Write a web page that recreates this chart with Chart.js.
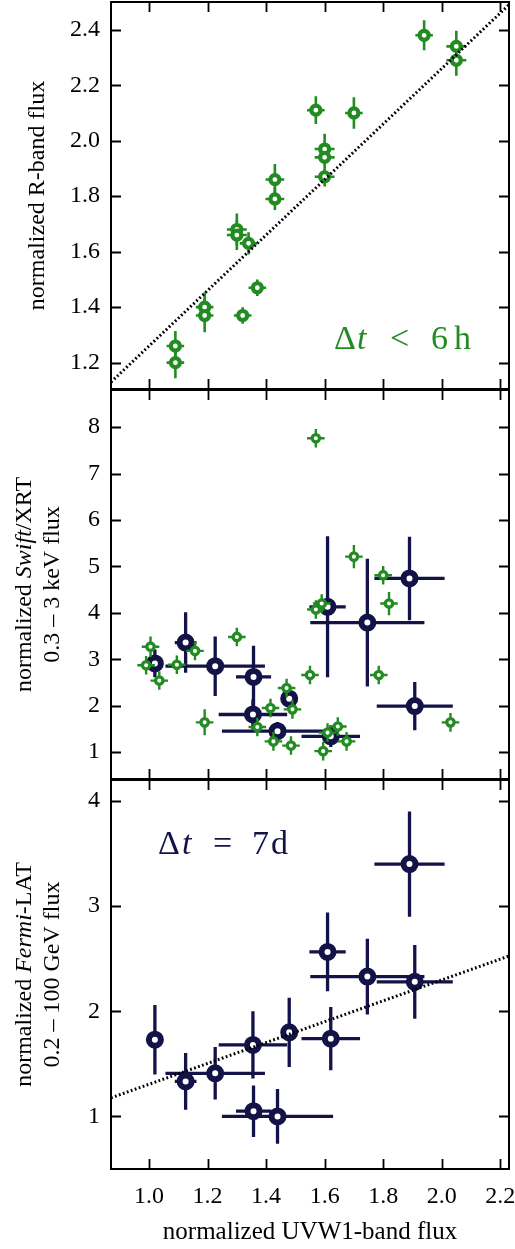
<!DOCTYPE html>
<html>
<head>
<meta charset="utf-8">
<script src="https://cdn.jsdelivr.net/npm/chart.js@4"></script>
<style>
  body { margin: 0; background: #fff; width: 515px; height: 1249px; position: relative; overflow: hidden; }
  canvas { position: absolute; left: 0; }
</style>
</head>
<body>
<canvas id="rband" width="515" height="391" style="top:0px"></canvas>
<canvas id="xrt" width="515" height="390" style="top:390px"></canvas>
<canvas id="lat" width="515" height="470" style="top:779px"></canvas>
<script>
// shared x axis (normalized UVW1 flux)
const xMin = 0.87, xMax = 2.23;
const xTicks = [1.0, 1.2, 1.4, 1.6, 1.8, 2.0, 2.2];
const rTicks = [1.2, 1.4, 1.6, 1.8, 2.0, 2.2, 2.4];
const xrtTicks = [1, 2, 3, 4, 5, 6, 7, 8];
const latTicks = [1, 2, 3, 4];

// R band vs UVW1, quasi-simultaneous (dt < 6 h)
const rUvX    = [1.94, 2.05, 2.05, 1.57, 1.70, 1.60, 1.60, 1.60, 1.43, 1.43, 1.30, 1.30, 1.34, 1.37, 1.32, 1.19, 1.19, 1.09, 1.09];
const rUvXErr = [0.03, 0.034, 0.034, 0.03, 0.03, 0.034, 0.034, 0.034, 0.032, 0.032, 0.034, 0.034, 0.03, 0.03, 0.03, 0.03, 0.03, 0.03, 0.03];
const rFlux    = [2.38, 2.34, 2.29, 2.11, 2.10, 1.97, 1.94, 1.87, 1.86, 1.79, 1.68, 1.66, 1.63, 1.47, 1.37, 1.40, 1.37, 1.26, 1.20];
const rFluxErr = [0.054, 0.056, 0.056, 0.05, 0.057, 0.055, 0.035, 0.035, 0.056, 0.04, 0.058, 0.054, 0.04, 0.03, 0.03, 0.054, 0.06, 0.054, 0.056];

// XRT vs UVW1, dt < 6 h
const xrtUvX    = [1.57, 1.70, 1.80, 1.82, 1.57, 1.59, 1.30, 1.005, 1.157, 0.99, 1.095, 1.035, 1.55, 1.785, 1.47, 1.49, 1.415, 1.19, 1.37, 1.425, 1.485, 1.595, 1.645, 1.675, 1.61, 2.03];
const xrtUvXErr = [0.03, 0.03, 0.03, 0.03, 0.03, 0.03, 0.03, 0.03, 0.03, 0.03, 0.03, 0.03, 0.03, 0.03, 0.03, 0.03, 0.03, 0.03, 0.03, 0.03, 0.03, 0.03, 0.03, 0.03, 0.03, 0.03];
const xrtFlux    = [7.76, 5.21, 4.81, 4.20, 4.07, 4.20, 3.48, 3.27, 3.18, 2.87, 2.88, 2.54, 2.66, 2.66, 2.38, 1.92, 1.95, 1.64, 1.54, 1.23, 1.14, 1.02, 1.55, 1.23, 1.42, 1.64];
const xrtFluxErr = [0.2, 0.25, 0.2, 0.25, 0.2, 0.2, 0.2, 0.22, 0.2, 0.2, 0.2, 0.2, 0.2, 0.2, 0.2, 0.2, 0.2, 0.28, 0.2, 0.2, 0.2, 0.2, 0.2, 0.2, 0.2, 0.2];

// 7 day bins
const binUvX    = [1.02, 1.125, 1.226, 1.357, 1.355, 1.479, 1.439, 1.621, 1.61, 1.746, 1.89, 1.908];
const binUvXErr = [0.008, 0.037, 0.17, 0.06, 0.117, 0.02, 0.19, 0.1, 0.062, 0.195, 0.12, 0.13];
const binXrt    = [2.91, 3.36, 2.85, 2.62, 1.81, 2.15, 1.45, 1.34, 4.13, 3.79, 4.74, 1.99];
const binXrtErr = [0.3, 0.65, 0.64, 0.67, 0.32, 0.2, 0.2, 0.23, 1.52, 1.375, 0.9, 0.52];
const binLat    = [1.73, 1.333, 1.41, 1.05, 1.68, 1.80, 1.0, 1.74, 2.565, 2.33, 3.40, 2.28];
const binLatErr = [0.33, 0.27, 0.25, 0.245, 0.32, 0.33, 0.26, 0.3, 0.375, 0.36, 0.5, 0.35];

// dotted trend lines
const fitX = [0.87, 2.23];
const fitR = [1.13, 2.49];
const fitLat = [1.177, 2.526];

const GREEN = '#228b22';
const NAVY = '#131347';
const SERIF = '"Liberation Serif", "DejaVu Serif", serif';

const pts = (xs, ys) => xs.map((x, i) => ({ x: x, y: ys[i] }));

const errorBars = {
    id: 'errorBars',
    beforeDatasetDraw(chart, args) {
        const ds = chart.data.datasets[args.index];
        if (!ds.xErr && !ds.yErr) return;
        const ctx = chart.ctx, a = chart.chartArea;
        const sx = chart.scales.x, sy = chart.scales.y;
        ctx.save();
        ctx.beginPath();
        ctx.rect(a.left, a.top, a.right - a.left, a.bottom - a.top);
        ctx.clip();
        ctx.strokeStyle = ds.borderColor;
        ctx.lineWidth = ds.errWidth;
        ds.data.forEach((p, i) => {
            const px = sx.getPixelForValue(p.x), py = sy.getPixelForValue(p.y);
            ctx.beginPath();
            if (ds.xErr && ds.xErr[i]) {
                ctx.moveTo(sx.getPixelForValue(p.x - ds.xErr[i]), py);
                ctx.lineTo(sx.getPixelForValue(p.x + ds.xErr[i]), py);
            }
            if (ds.yErr && ds.yErr[i]) {
                ctx.moveTo(px, sy.getPixelForValue(p.y - ds.yErr[i]));
                ctx.lineTo(px, sy.getPixelForValue(p.y + ds.yErr[i]));
            }
            ctx.stroke();
        });
        ctx.restore();
    }
};

function drawParts(ctx, parts, size, x, y, align) {
    const font = it => (it ? 'italic ' : '') + size + 'px ' + SERIF;
    let w = 0;
    parts.forEach(p => { ctx.font = font(p.i); w += ctx.measureText(p.t).width; });
    let cx = align === 'center' ? x - w / 2 : x;
    ctx.textAlign = 'left';
    parts.forEach(p => {
        ctx.font = font(p.i);
        // parts with dx are placed at a fixed offset from the start
        const px = p.dx !== undefined ? x + p.dx : cx;
        ctx.fillText(p.t, px, y);
        cx = px + ctx.measureText(p.t).width;
    });
}

const frame = {
    id: 'frame',
    afterDraw(chart, args, opts) {
        const ctx = chart.ctx, a = chart.chartArea;
        const sx = chart.scales.x, sy = chart.scales.y;
        ctx.save();
        ctx.strokeStyle = '#000';
        ctx.lineWidth = 1.8;
        ctx.beginPath();
        xTicks.forEach(v => {
            const px = Math.round(sx.getPixelForValue(v)) + 0.5;
            ctx.moveTo(px, a.top); ctx.lineTo(px, a.top + 10);
            ctx.moveTo(px, a.bottom); ctx.lineTo(px, a.bottom - 10);
        });
        opts.yTicks.forEach(v => {
            const py = Math.round(sy.getPixelForValue(v)) + 0.5;
            ctx.moveTo(a.left, py); ctx.lineTo(a.left + 10, py);
            ctx.moveTo(a.right, py); ctx.lineTo(a.right - 10, py);
        });
        ctx.stroke();
        ctx.lineWidth = 2;
        ctx.strokeRect(a.left, a.top, a.right - a.left, a.bottom - a.top);

        // y axis title (may contain italic parts)
        ctx.fillStyle = '#000';
        ctx.textBaseline = 'middle';
        const cy = (a.top + a.bottom) / 2;
        opts.title.forEach((line, k) => {
            ctx.save();
            ctx.translate(opts.titleX[k], cy);
            ctx.rotate(-Math.PI / 2);
            drawParts(ctx, line, 24, 0, 0, 'center');
            ctx.restore();
        });

        // panel note
        if (opts.note) {
            ctx.fillStyle = opts.noteColor;
            ctx.textBaseline = 'alphabetic';
            drawParts(ctx, opts.note, 34, a.left + opts.noteAt[0], a.top + opts.noteAt[1], 'left');
        }
        ctx.restore();
    }
};

function noPad(s) {
    s.paddingTop = 0; s.paddingBottom = 0; s.paddingLeft = 0; s.paddingRight = 0;
}

function makePanel(id, cfg) {
    const showX = !!cfg.showX;
    return new Chart(document.getElementById(id), {
        type: 'scatter',
        data: { datasets: cfg.datasets },
        options: {
            responsive: false,
            animation: false,
            layout: { padding: cfg.padding, autoPadding: false },
            plugins: {
                legend: { display: false },
                tooltip: { enabled: false },
                frame: cfg.frame
            },
            scales: {
                x: {
                    type: 'linear',
                    min: xMin, max: xMax,
                    afterBuildTicks: s => { s.ticks = xTicks.map(v => ({ value: v })); },
                    afterFit: s => { s.height = showX ? 80 : 0; noPad(s); },
                    grid: { display: false, drawTicks: false },
                    border: { display: false },
                    ticks: {
                        display: showX,
                        padding: 13,
                        color: '#000',
                        font: { family: SERIF, size: 24 },
                        callback: v => Number(v).toFixed(1)
                    },
                    title: {
                        display: showX,
                        text: 'normalized UVW1-band flux',
                        color: '#000',
                        font: { family: SERIF, size: 25 },
                        padding: { top: 0, bottom: 2 }
                    }
                },
                y: {
                    type: 'linear',
                    min: cfg.yMin, max: cfg.yMax,
                    afterBuildTicks: s => { s.ticks = cfg.yTicks.map(v => ({ value: v })); },
                    afterFit: s => { s.width = 111; noPad(s); },
                    grid: { display: false, drawTicks: false },
                    border: { display: false },
                    ticks: {
                        padding: 11,
                        color: '#000',
                        font: { family: SERIF, size: 24 },
                        callback: cfg.yFormat
                    }
                }
            }
        },
        plugins: [errorBars, frame]
    });
}

const fitStyle = {
    type: 'line', showLine: true, borderColor: '#000', borderWidth: 3,
    borderDash: [1.8, 2.4], pointRadius: 0, fill: false
};

makePanel('rband', {
    padding: { top: 2, right: 6, bottom: 2, left: 0 },
    yMin: 1.105, yMax: 2.5, yTicks: rTicks,
    yFormat: v => Number(v).toFixed(1),
    frame: {
        yTicks: rTicks,
        title: [[{ t: 'normalized R-band flux' }]],
        titleX: [38],
        note: [{ t: 'Δ', dx: 0 }, { t: 't', i: true, dx: 23 }, { t: '<', dx: 56 }, { t: '6', dx: 97 }, { t: 'h', dx: 120 }],
        noteColor: GREEN,
        noteAt: [223, 347]
    },
    datasets: [
        Object.assign({ data: pts(fitX, fitR) }, fitStyle),
        {
            data: pts(rUvX, rFlux), xErr: rUvXErr, yErr: rFluxErr, errWidth: 2.6,
            borderColor: GREEN, backgroundColor: '#fff',
            pointRadius: 4.5, pointBorderWidth: 4.2, pointBackgroundColor: '#fff', pointBorderColor: GREEN
        }
    ]
});

makePanel('xrt', {
    padding: { top: 0, right: 6, bottom: 1, left: 0 },
    yMin: 0.42, yMax: 8.8, yTicks: xrtTicks,
    yFormat: v => String(v),
    frame: {
        yTicks: xrtTicks,
        title: [
            [{ t: 'normalized ' }, { t: 'Swift', i: true }, { t: '/XRT' }],
            [{ t: '0.3 – 3 keV flux' }]
        ],
        titleX: [25, 53]
    },
    datasets: [
        {
            data: pts(xrtUvX, xrtFlux), xErr: xrtUvXErr, yErr: xrtFluxErr, errWidth: 2.4,
            borderColor: GREEN, backgroundColor: '#fff',
            pointRadius: 3.7, pointBorderWidth: 3.3, pointBackgroundColor: '#fff', pointBorderColor: GREEN
        },
        {
            data: pts(binUvX, binXrt), xErr: binUvXErr, yErr: binXrtErr, errWidth: 3.3,
            borderColor: NAVY, backgroundColor: '#fff',
            pointRadius: 6, pointBorderWidth: 6, pointBackgroundColor: '#fff', pointBorderColor: NAVY
        }
    ]
});

makePanel('lat', {
    showX: true,
    padding: { top: 1, right: 6, bottom: 0, left: 0 },
    yMin: 0.5, yMax: 4.2, yTicks: latTicks,
    yFormat: v => String(v),
    frame: {
        yTicks: latTicks,
        title: [
            [{ t: 'normalized ' }, { t: 'Fermi', i: true }, { t: '-LAT' }],
            [{ t: '0.2 – 100 GeV flux' }]
        ],
        titleX: [25, 53],
        note: [{ t: 'Δ', dx: 0 }, { t: 't', i: true, dx: 24 }, { t: '=', dx: 55 }, { t: '7', dx: 94 }, { t: 'd', dx: 113 }],
        noteColor: NAVY,
        noteAt: [47, 74]
    },
    datasets: [
        Object.assign({ data: pts(fitX, fitLat) }, fitStyle),
        {
            data: pts(binUvX, binLat), xErr: binUvXErr, yErr: binLatErr, errWidth: 3.3,
            borderColor: NAVY, backgroundColor: '#fff',
            pointRadius: 6, pointBorderWidth: 6, pointBackgroundColor: '#fff', pointBorderColor: NAVY
        }
    ]
});
</script>
</body>
</html>
